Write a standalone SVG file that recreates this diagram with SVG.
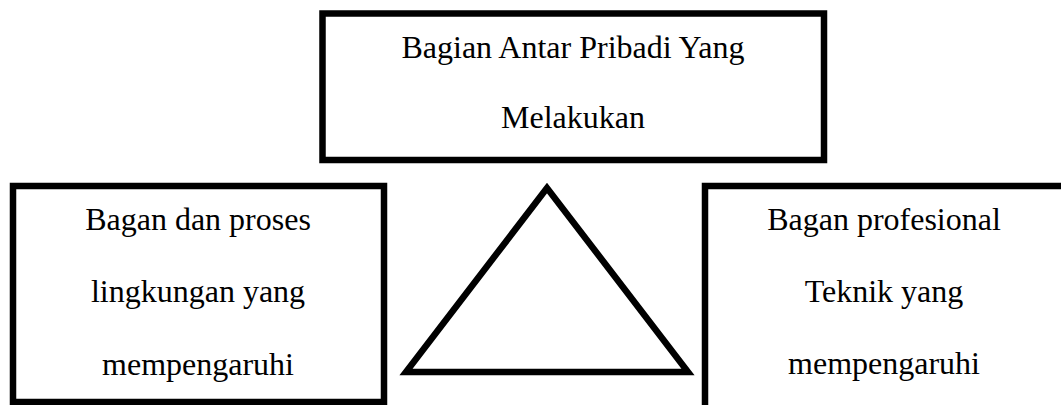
<svg xmlns="http://www.w3.org/2000/svg" width="1061" height="405" viewBox="0 0 1061 405">
<style>
.box{fill:#fff;stroke:#000;stroke-width:6.5;stroke-linejoin:miter}
.t{font-family:"Liberation Serif","Times New Roman",serif;font-size:32px;fill:#000;text-anchor:middle}
</style>
<rect width="1061" height="405" fill="#fff"/>
<g id="top">
<rect class="box" x="322.5" y="13.5" width="501.5" height="146.5"/>
<text class="t" x="573" y="58">Bagian Antar Pribadi Yang</text>
<text class="t" x="573" y="128">Melakukan</text>
</g>
<g id="left">
<rect class="box" x="13" y="186" width="371" height="216"/>
<text class="t" x="198" y="230">Bagan dan proses</text>
<text class="t" x="198" y="302">lingkungan yang</text>
<text class="t" x="198" y="375">mempengaruhi</text>
</g>
<g id="right">
<rect class="box" x="705" y="186" width="420" height="240"/>
<text class="t" x="884" y="230">Bagan profesional</text>
<text class="t" x="884" y="302">Teknik yang</text>
<text class="t" x="884" y="374">mempengaruhi</text>
</g>
<g id="connectors">
<polygon class="box" points="547,188 406,372 688,372"/>
</g>
</svg>
